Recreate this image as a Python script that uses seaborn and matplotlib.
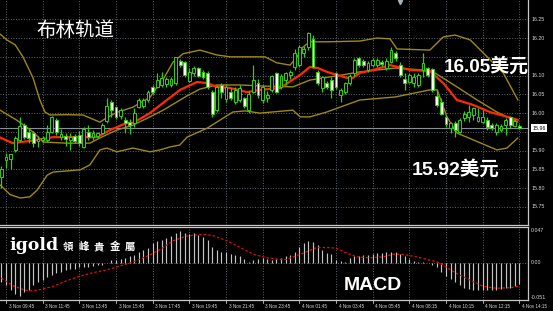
import matplotlib
matplotlib.use("Agg")
import matplotlib.pyplot as plt
import matplotlib.transforms as mtransforms
import numpy as np
import pandas as pd
import seaborn as sns

# ---------------- data (15-minute candles, silver) ----------------
opens = [15.831, 15.876, 15.878, 15.902, 15.929, 15.969, 15.951, 15.946, 15.925, 15.929,
         15.929, 15.951, 15.982, 15.936, 15.939, 15.929, 15.939, 15.942, 15.909, 15.951,
         15.936, 15.939, 15.948, 15.980, 16.030, 16.017, 15.993, 15.982, 15.977, 15.973,
         16.017, 16.019, 16.035, 16.070, 16.070, 16.075, 16.077, 16.075, 16.080, 16.140,
         16.137, 16.086, 16.106, 16.119, 16.110, 16.108, 16.057, 16.008, 16.075, 16.037,
         16.057, 16.030, 16.035, 16.040, 16.008, 16.057, 16.080, 16.035, 16.040, 16.062,
         16.108, 16.070, 16.088, 16.102, 16.124, 16.128, 16.159, 16.177, 16.197, 16.110,
         16.066, 16.079, 16.088, 16.106, 16.048, 16.057, 16.080, 16.106, 16.146, 16.140,
         16.115, 16.128, 16.128, 16.137, 16.119, 16.137, 16.160, 16.128, 16.090, 16.084,
         16.079, 16.075, 16.115, 16.120, 16.117, 16.046, 16.030, 15.989, 15.960, 15.973,
         15.950, 15.986, 15.990, 15.995, 15.980, 15.977, 15.982, 15.969, 15.951, 15.955,
         15.968, 15.989, 15.967, 15.967]
highs = [15.859, 15.893, 15.891, 15.939, 15.989, 15.973, 15.960, 15.953, 15.939, 15.940,
         15.969, 15.992, 15.986, 15.957, 15.948, 15.948, 15.945, 15.953, 15.962, 15.969,
         15.955, 15.950, 15.974, 16.040, 16.035, 16.020, 16.015, 15.990, 15.985, 16.013,
         16.040, 16.040, 16.062, 16.075, 16.106, 16.110, 16.097, 16.095, 16.150, 16.143,
         16.140, 16.119, 16.125, 16.122, 16.115, 16.112, 16.062, 16.075, 16.080, 16.075,
         16.066, 16.070, 16.075, 16.044, 16.060, 16.128, 16.090, 16.075, 16.060, 16.102,
         16.110, 16.105, 16.110, 16.115, 16.172, 16.181, 16.178, 16.217, 16.208, 16.115,
         16.100, 16.085, 16.095, 16.110, 16.066, 16.084, 16.105, 16.146, 16.150, 16.145,
         16.140, 16.146, 16.146, 16.141, 16.146, 16.175, 16.165, 16.137, 16.106, 16.108,
         16.106, 16.108, 16.160, 16.124, 16.120, 16.062, 16.040, 15.995, 15.977, 15.980,
         15.986, 16.005, 16.022, 16.017, 16.013, 16.008, 15.990, 15.975, 15.973, 15.970,
         15.986, 15.993, 15.985, 15.972]
lows = [15.800, 15.853, 15.850, 15.897, 15.924, 15.930, 15.920, 15.909, 15.909, 15.920,
        15.924, 15.946, 15.942, 15.929, 15.912, 15.902, 15.920, 15.912, 15.906, 15.929,
        15.929, 15.935, 15.944, 15.975, 15.990, 15.985, 15.985, 15.948, 15.945, 15.964,
        16.013, 16.015, 16.030, 16.050, 16.066, 16.070, 16.070, 16.070, 16.075, 16.124,
        16.095, 16.084, 16.100, 16.095, 16.090, 16.065, 15.990, 16.004, 16.040, 16.030,
        16.035, 16.025, 16.030, 16.013, 16.000, 16.053, 16.040, 16.026, 16.030, 16.057,
        16.053, 16.065, 16.075, 16.090, 16.115, 16.124, 16.150, 16.168, 16.120, 16.075,
        16.057, 16.065, 16.040, 16.065, 16.030, 16.050, 16.075, 16.100, 16.124, 16.124,
        16.110, 16.124, 16.124, 16.126, 16.115, 16.133, 16.140, 16.097, 16.062, 16.080,
        16.070, 16.070, 16.097, 16.097, 16.057, 16.017, 15.995, 15.964, 15.946, 15.937,
        15.946, 15.980, 15.977, 15.982, 15.977, 15.973, 15.955, 15.955, 15.942, 15.950,
        15.942, 15.960, 15.962, 15.958]
closes = [15.850, 15.882, 15.890, 15.933, 15.966, 15.937, 15.933, 15.920, 15.930, 15.933,
          15.951, 15.989, 15.951, 15.944, 15.932, 15.937, 15.927, 15.920, 15.957, 15.936,
          15.946, 15.946, 15.969, 16.019, 16.008, 15.989, 16.008, 15.973, 15.969, 16.000,
          16.035, 16.035, 16.057, 16.057, 16.088, 16.093, 16.090, 16.090, 16.149, 16.128,
          16.102, 16.110, 16.119, 16.099, 16.097, 16.070, 15.998, 16.070, 16.057, 16.070,
          16.040, 16.062, 16.066, 16.019, 16.050, 16.088, 16.048, 16.070, 16.048, 16.099,
          16.057, 16.099, 16.108, 16.110, 16.159, 16.177, 16.170, 16.213, 16.124, 16.079,
          16.097, 16.070, 16.062, 16.070, 16.061, 16.079, 16.100, 16.141, 16.128, 16.128,
          16.134, 16.141, 16.141, 16.130, 16.140, 16.168, 16.146, 16.102, 16.080, 16.102,
          16.097, 16.102, 16.133, 16.102, 16.062, 16.022, 15.999, 15.971, 15.973, 15.955,
          15.982, 15.999, 16.004, 16.013, 15.989, 15.989, 15.962, 15.960, 15.969, 15.966,
          15.982, 15.968, 15.980, 15.960]

# Bollinger bands and moving average (bar index, price)
upper_bar = [-0.3, 1.2, 3.0, 4.7, 6.9, 8.4, 9.5, 10.6, 14.3, 17.8, 21.5, 23.0, 25.2, 28.7,
             32.4, 34.0, 35.3, 37.4, 39.6, 43.3, 47.0, 49.9, 55.8, 57.5, 60.1, 63.0, 64.5,
             65.8, 67.3, 71.0, 78.2, 81.9, 84.8, 86.3, 93.5, 96.4, 99.0, 102.3, 106.0,
             109.5, 112.7]
upper_val = [16.211, 16.195, 16.182, 16.150, 16.094, 16.035, 16.003, 15.995, 15.996, 15.995,
             15.976, 15.988, 16.002, 16.016, 16.042, 16.070, 16.090, 16.135, 16.158, 16.168,
             16.155, 16.150, 16.150, 16.150, 16.134, 16.128, 16.150, 16.176, 16.190, 16.190,
             16.192, 16.200, 16.198, 16.171, 16.168, 16.203, 16.208, 16.195, 16.150, 16.107,
             16.035]
middle_bar = [-0.3, 3.4, 6.9, 9.1, 14.3, 19.3, 21.5, 25.2, 28.7, 32.4, 35.3, 37.9, 40.5,
              43.3, 47.0, 52.1, 57.5, 63.6, 67.3, 74.5, 78.2, 85.9, 92.0, 94.2, 99.4, 103.8,
              108.1, 112.7]
middle_val = [16.008, 15.981, 15.950, 15.923, 15.920, 15.920, 15.934, 15.955, 15.968, 15.990,
              16.008, 16.027, 16.046, 16.064, 16.075, 16.075, 16.072, 16.070, 16.088, 16.102,
              16.110, 16.120, 16.115, 16.110, 16.070, 16.035, 16.003, 15.976]
lower_bar = [-0.3, 1.9, 4.1, 6.2, 7.8, 10.0, 11.3, 17.2, 19.3, 21.5, 23.0, 25.2, 28.7, 32.4,
             34.6, 36.8, 38.9, 40.5, 44.9, 50.5, 53.2, 56.4, 63.6, 65.2, 67.3, 71.0, 73.9,
             78.2, 85.9, 93.5, 95.1, 97.2, 99.4, 102.9, 108.1, 110.3, 112.7]
lower_val = [15.809, 15.783, 15.774, 15.777, 15.795, 15.835, 15.843, 15.849, 15.862, 15.902,
             15.907, 15.897, 15.907, 15.897, 15.902, 15.910, 15.915, 15.936, 15.960, 16.003,
             16.006, 16.000, 16.008, 15.990, 15.990, 16.003, 16.016, 16.035, 16.043, 16.062,
             16.062, 15.990, 15.947, 15.929, 15.902, 15.907, 15.934]
ma_bar = [-0.3, 2.5, 5.6, 8.4, 11.3, 14.3, 18.7, 20.9, 23.7, 27.4, 28.7, 32.4, 36.1, 39.0,
          42.7, 44.9, 47.0, 49.9, 53.6, 56.4, 60.8, 65.2, 67.3, 69.1, 71.0, 75.4, 76.7,
          78.2, 81.1, 84.8, 89.2, 93.5, 96.4, 99.4, 102.9, 106.6, 112.7]
ma_val = [15.935, 15.920, 15.925, 15.930, 15.936, 15.936, 15.936, 15.936, 15.955, 15.974,
          15.974, 16.000, 16.035, 16.062, 16.083, 16.080, 16.070, 16.067, 16.056, 16.062,
          16.067, 16.102, 16.123, 16.120, 16.110, 16.094, 16.094, 16.107, 16.115, 16.128,
          16.115, 16.112, 16.080, 16.035, 16.022, 16.003, 15.982]

# MACD histogram (one value per candle) and signal line
macd_hist = [-0.028, -0.033, -0.041, -0.047, -0.050, -0.043, -0.041, -0.033, -0.028, -0.026,
             -0.021, -0.018, -0.016, -0.014, -0.011, -0.010, -0.009, -0.007, -0.007, -0.006,
             -0.005, -0.004, -0.003, -0.001, 0.003, 0.004, 0.005, 0.006, 0.009, 0.011,
             0.015, 0.018, 0.022, 0.028, 0.031, 0.033, 0.036, 0.039, 0.043, 0.046,
             0.044, 0.042, 0.043, 0.041, 0.038, 0.033, 0.023, 0.019, 0.016, 0.015,
             0.013, 0.011, 0.009, 0.005, 0.001, 0.004, 0.005, 0.006, 0.005, 0.004,
             0.005, 0.006, 0.009, 0.011, 0.016, 0.023, 0.028, 0.032, 0.030, 0.026,
             0.019, 0.014, 0.013, 0.004, 0.002, 0.001, 0.006, 0.010, 0.010, 0.011,
             0.011, 0.012, 0.014, 0.014, 0.015, 0.015, 0.015, 0.013, 0.009, 0.005,
             0.002, 0.001, 0.001, -0.001, -0.003, -0.007, -0.014, -0.020, -0.024, -0.028,
             -0.033, -0.037, -0.039, -0.041, -0.041, -0.041, -0.041, -0.040, -0.040, -0.039,
             -0.038, -0.037, -0.035, -0.032]
signal_bar = [0, 2.5, 4.8, 6.2, 8.4, 11.3, 14.2, 17.2, 20, 23, 25.9, 28.8, 31.7, 34.6, 37.5,
              40.4, 43.3, 44.8, 46.2, 49.2, 52.1, 55, 57.9, 60.8, 62.2, 65.9, 68.8, 71.7,
              73.2, 75.3, 77.5, 80.4, 83.3, 85.5, 87.7, 90.6, 93.5, 95, 96.4, 99.3, 102.3,
              105.1, 108, 111, 112.8]
signal_val = [-0.023, -0.034, -0.040, -0.042, -0.040, -0.035, -0.027, -0.020, -0.015, -0.011,
              -0.005, 0.001, 0.009, 0.019, 0.032, 0.039, 0.041, 0.041, 0.0395, 0.032, 0.022,
              0.012, 0.007, 0.0045, 0.0044, 0.014, 0.022, 0.022, 0.0206, 0.014, 0.0083,
              0.0069, 0.0083, 0.0123, 0.0118, 0.0083, 0.0034, 0.001, -0.004, -0.016, -0.026,
              -0.035, -0.038, -0.037, -0.035]

time_labels = ["3 Nov 09:45", "3 Nov 11:45", "3 Nov 13:45", "3 Nov 15:45", "3 Nov 17:45",
               "3 Nov 19:45", "3 Nov 21:45", "3 Nov 23:45", "4 Nov 01:45", "4 Nov 03:45",
               "4 Nov 05:45", "4 Nov 08:15", "4 Nov 10:15", "4 Nov 12:15", "4 Nov 14:15"]
time_label_bars = [1, 9, 17, 25, 33, 41, 49, 57, 65, 73, 81, 89, 97, 105, 113]
price_grid = [15.75, 15.80, 15.85, 15.90, 15.95, 16.00, 16.05, 16.10, 16.15, 16.20, 16.25]
price_labels = ["16.25", "16.20", "16.10", "16.05", "16.00", "15.90", "15.85", "15.80", "15.75"]
last_price = 15.96
macd_labels = ["0.047", "0.00", "-0.051"]

# ---------------- style ----------------
sns.set_theme(style="dark", rc={"axes.facecolor": "black", "figure.facecolor": "black"})
plt.rcParams["font.family"] = ["Liberation Sans", "Noto Sans CJK SC", "DejaVu Sans"]

W, H = 553, 311
fig = plt.figure(figsize=(W / 100, H / 100), dpi=100, facecolor="black")
ax = fig.add_axes([0, 1 - 225 / H, 528 / W, 225 / H])
ax2 = fig.add_axes([0, 1 - 300 / H, 528 / W, 73 / H])

GREEN = "#2fd10f"
WHITE_BODY = "#fbfff0"
BAND = "#9c8a12"
GRID = "#7d8a96"
FRAME = "#c8c8c8"

for a in (ax, ax2):
    a.set_facecolor("black")
    a.set_xlim(-0.305, 114.9)
    a.set_xticks([])
    a.set_yticks([])
    a.grid(False)
    for s in ("left", "top"):
        a.spines[s].set_visible(False)
    for s in ("right", "bottom"):
        a.spines[s].set_color(FRAME)
        a.spines[s].set_linewidth(0.9)
ax2.spines["top"].set_visible(True)
ax2.spines["top"].set_color(FRAME)
ax2.spines["top"].set_linewidth(0.9)

ax.set_ylim(15.702, 16.3014)
ax2.set_ylim(-0.05518, 0.05224)

# grid
for v in price_grid:
    ax.axhline(v, color=GRID, lw=0.55, ls=(0, (1.2, 2.2)), zorder=0)
for b in time_label_bars:
    ax.axvline(b, color=GRID, lw=0.55, ls=(0, (1.2, 2.2)), zorder=0)
    ax2.axvline(b, color=GRID, lw=0.55, ls=(0, (1.2, 2.2)), zorder=0)
ax2.axhline(0.0, color=GRID, lw=0.55, ls=(0, (1.2, 2.2)), zorder=0)
ax.axhline(last_price, color="#8a8f96", lw=0.8, zorder=1)

# bands and moving average
for bars, vals, col, lw in ((upper_bar, upper_val, BAND, 1.0),
                            (middle_bar, middle_val, BAND, 1.0),
                            (lower_bar, lower_val, BAND, 1.0),
                            (ma_bar, ma_val, "#ff2a00", 1.6)):
    df = pd.DataFrame({"bar": bars, "price": vals})
    sns.lineplot(data=df, x="bar", y="price", ax=ax, color=col, lw=lw,
                 estimator=None, sort=False, zorder=3 if col != BAND else 2)

# candles
cdf = pd.DataFrame({"open": opens, "high": highs, "low": lows, "close": closes})
cdf["bar"] = np.arange(len(cdf))
ax.vlines(cdf["bar"], cdf["low"], cdf["high"], color=GREEN, lw=0.9, zorder=4)
body_low = np.minimum(cdf["open"], cdf["close"])
body_h = np.maximum(np.abs(cdf["close"] - cdf["open"]), 0.002)
faces = np.where(cdf["close"] >= cdf["open"], "black", WHITE_BODY)
ax.bar(cdf["bar"], body_h, bottom=body_low, width=0.62, color=faces,
       edgecolor=GREEN, linewidth=0.7, zorder=5)
ax.set_xlabel("")
ax.set_ylabel("")

# MACD
ax2.vlines(np.arange(len(macd_hist)), 0, macd_hist, color="#c4c4c4", lw=0.85, zorder=2)
sdf = pd.DataFrame({"bar": signal_bar, "signal": signal_val})
sns.lineplot(data=sdf, x="bar", y="signal", ax=ax2, color="#e01010", lw=0.9,
             estimator=None, sort=False, zorder=3)
ax2.lines[-1].set_linestyle((0, (2, 1.6)))
ax2.set_xlabel("")
ax2.set_ylabel("")

# right axis labels
ytr = mtransforms.blended_transform_factory(ax.transAxes, ax.transData)
for lab in price_labels:
    ax.text(1.006, float(lab), lab, transform=ytr, ha="left", va="center",
            fontsize=3.8, color="#d8d8d8", clip_on=False)
ax.text(1.008, last_price, "15.96", transform=ytr, ha="left", va="center",
        fontsize=3.8, color="black", clip_on=False,
        bbox=dict(facecolor="white", edgecolor="none", boxstyle="square,pad=0.25"))
ytr2 = mtransforms.blended_transform_factory(ax2.transAxes, ax2.transData)
for lab in macd_labels:
    ax2.text(1.006, float(lab), lab, transform=ytr2, ha="left", va="center",
             fontsize=3.8, color="#d8d8d8", clip_on=False)

# time labels
xtr = mtransforms.blended_transform_factory(ax2.transData, ax2.transAxes)
for b, lab in zip(time_label_bars, time_labels):
    ax2.text(b + 0.6, -0.085, lab, transform=xtr, ha="left", va="center",
             fontsize=3.3, color="#d8d8d8", clip_on=False)
    ax2.plot([b, b], [0, -0.035], transform=xtr, color=FRAME, lw=0.6, clip_on=False)

# chart shift marker
ax.plot([87.0], [16.297], marker="v", ms=3, color="#a8b0b8", clip_on=False, zorder=6)

# overlay texts
def px(x, y):
    return x / W, 1 - y / H

fig.text(*px(36, 30), "布林轨道", fontsize=14, color="white", ha="left", va="center",
         family=["Noto Sans CJK SC"])
fig.text(*px(444, 66), "16.05美元", fontsize=13.6, color="white", ha="left", va="center",
         fontweight="bold", family=["Liberation Sans", "Noto Sans CJK SC"])
fig.text(*px(412, 169), "15.92美元", fontsize=14, color="white", ha="left", va="center",
         fontweight="bold", family=["Liberation Sans", "Noto Sans CJK SC"])
fig.text(*px(344, 285), "MACD", fontsize=14, color="white", ha="left", va="center",
         fontweight="bold", family=["Liberation Sans"])
fig.text(*px(9, 245), "igold", fontsize=12.5, color="white", ha="left", va="center",
         fontweight="bold", family=["DejaVu Serif"])
for i, ch in enumerate("領峰貴金屬"):
    fig.text(*px(68 + 15.6 * i, 247), ch, fontsize=7.5, color="white", ha="center",
             va="center", fontweight="bold", family=["Noto Sans CJK TC"])

fig.savefig("out.png", dpi=100, facecolor="black")
